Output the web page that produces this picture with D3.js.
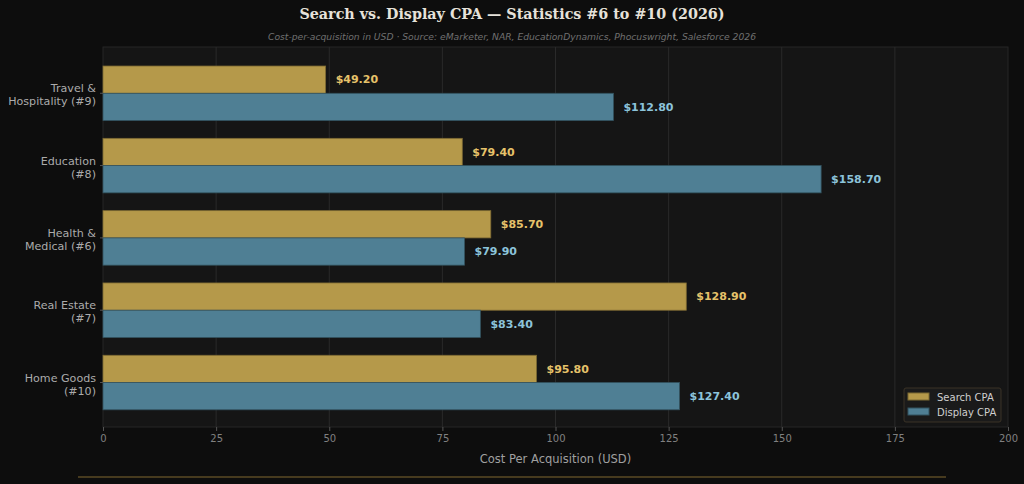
<!DOCTYPE html>
<html>
<head>
<meta charset="utf-8">
<style>
    body { margin: 0; background: #0d0d0d; }
    svg { display: block; }
</style>
</head>
<body>
<svg width="1024" height="484"></svg>
<script src="https://d3js.org/d3.v7.min.js"></script>
<script>
    // data
    let categories = [["Travel &", "Hospitality (#9)"], ["Education", "(#8)"], ["Health &", "Medical (#6)"], ["Real Estate", "(#7)"], ["Home Goods", "(#10)"]]
    let searchCPA = [49.2, 79.4, 85.7, 128.9, 95.8]
    let displayCPA = [112.8, 158.7, 79.9, 83.4, 127.4]
    let xTicks = [0, 25, 50, 75, 100, 125, 150, 175, 200]
    let seriesNames = ["Search CPA", "Display CPA"]

    let svg = d3.select("svg")
    let margin = { left: 103, right: 1008, top: 47, bottom: 427 }
    let barH = 0.377

    let x = d3.scaleLinear().domain([0, 200]).range([margin.left, margin.right])
    let y = d3.scaleLinear().domain([-0.64, 4.615]).range([margin.top, margin.bottom])

    svg.append("rect").attr("width", 1024).attr("height", 484).attr("fill", "#0d0d0d")

    // plot background
    svg.append("rect")
        .attr("x", margin.left).attr("y", margin.top)
        .attr("width", margin.right - margin.left).attr("height", margin.bottom - margin.top)
        .attr("fill", "#151515")
        .attr("stroke", "#262626")

    // grid
    svg.selectAll(".grid")
        .data(xTicks.slice(1, -1))
        .join("line")
        .attr("x1", d => x(d)).attr("x2", d => x(d))
        .attr("y1", margin.top).attr("y2", margin.bottom)
        .style("stroke", "#2a2a2a")
        .style("stroke-width", 1)

    let series = [
        { name: seriesNames[0], values: searchCPA, fill: "#b5994a", edge: "#7d6a33", text: "#e6c26a", off: -barH },
        { name: seriesNames[1], values: displayCPA, fill: "#4f7f94", edge: "#33535f", text: "#8cc3da", off: 0 }
    ]

    series.forEach(s => {
        svg.selectAll(null)
            .data(s.values)
            .join("rect")
            .attr("x", x(0))
            .attr("y", (d, i) => y(i + s.off))
            .attr("width", d => x(d) - x(0))
            .attr("height", y(barH) - y(0))
            .style("fill", s.fill)
            .style("stroke", s.edge)
            .style("stroke-width", 0.8)

        svg.selectAll(null)
            .data(s.values)
            .join("text")
            .attr("x", d => x(d) + 10)
            .attr("y", (d, i) => y(i + s.off + barH / 2))
            .attr("dy", "0.35em")
            .style("font-family", "DejaVu Sans")
            .style("font-size", "11px")
            .style("font-weight", "bold")
            .style("fill", s.text)
            .text(d => "$" + d3.format(".2f")(d))
    })

    // category labels
    let cat = svg.selectAll(".cat")
        .data(categories)
        .join("text")
        .attr("text-anchor", "end")
        .style("font-family", "DejaVu Sans")
        .style("font-size", "11.1px")
        .style("fill", "#ababab")
    cat.selectAll("tspan")
        .data((d, i) => d.map((t, j) => ({ t, j, i })))
        .join("tspan")
        .attr("x", margin.left - 7)
        .attr("y", d => y(d.i) + (d.j === 0 ? -1 : 12))
        .text(d => d.t)

    // y ticks
    svg.selectAll(".ytick")
        .data(categories)
        .join("line")
        .attr("x1", margin.left - 3).attr("x2", margin.left)
        .attr("y1", (d, i) => y(i)).attr("y2", (d, i) => y(i))
        .style("stroke", "#555")

    // x axis
    let xAxis = svg.append("g")
        .attr("transform", `translate(0,${margin.bottom})`)
        .call(d3.axisBottom(x).tickValues(xTicks).tickSize(4).tickPadding(4))
    xAxis.select(".domain").remove()
    xAxis.selectAll("line").style("stroke", "#555")
    xAxis.selectAll("text")
        .style("font-family", "DejaVu Sans")
        .style("font-size", "10px")
        .style("fill", "#808080")

    svg.append("text")
        .attr("x", (margin.left + margin.right) / 2).attr("y", 463)
        .attr("text-anchor", "middle")
        .style("font-family", "DejaVu Sans")
        .style("font-size", "11.5px")
        .style("fill", "#a0a0a0")
        .text("Cost Per Acquisition (USD)")

    // title
    svg.append("text")
        .attr("x", 512).attr("y", 19)
        .attr("text-anchor", "middle")
        .style("font-family", "DejaVu Serif")
        .style("font-size", "14.3px")
        .style("font-weight", "bold")
        .style("fill", "#e6e2da")
        .text("Search vs. Display CPA — Statistics #6 to #10 (2026)")

    svg.append("text")
        .attr("x", 512).attr("y", 39.5)
        .attr("text-anchor", "middle")
        .style("font-family", "DejaVu Sans")
        .style("font-size", "9.2px")
        .style("font-style", "italic")
        .style("fill", "#707070")
        .text("Cost-per-acquisition in USD · Source: eMarketer, NAR, EducationDynamics, Phocuswright, Salesforce 2026")

    // legend
    let lg = svg.append("g").attr("transform", "translate(904,388)")
    lg.append("rect")
        .attr("width", 97).attr("height", 34).attr("rx", 2)
        .style("fill", "#1a1a1a").style("stroke", "#3a3326")
    series.forEach((s, i) => {
        lg.append("rect")
            .attr("x", 4).attr("y", 5 + i * 15)
            .attr("width", 21).attr("height", 7)
            .style("fill", s.fill).style("stroke", s.edge)
        lg.append("text")
            .attr("x", 33).attr("y", 9 + i * 15)
            .attr("dy", "0.35em")
            .style("font-family", "DejaVu Sans")
            .style("font-size", "10px")
            .style("fill", "#cfcfcf")
            .text(s.name)
    })

    // bottom accent line
    svg.append("line")
        .attr("x1", 78).attr("x2", 946)
        .attr("y1", 477).attr("y2", 477)
        .style("stroke", "#5a4a25")
        .style("stroke-width", 1.5)
</script>
</body>
</html>
